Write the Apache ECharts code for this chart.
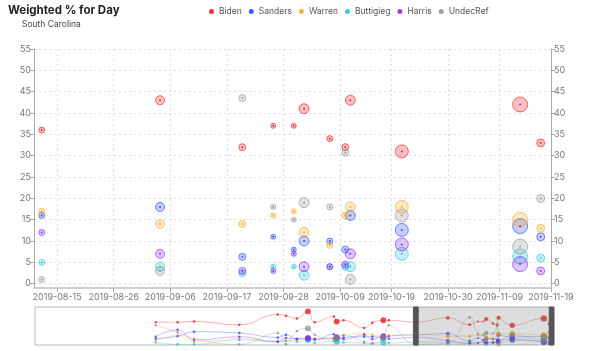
<!DOCTYPE html>
<html>
<head>
<meta charset="utf-8">
<title>Weighted % for Day</title>
<script src="https://cdn.jsdelivr.net/npm/echarts@6/dist/echarts.min.js"></script>
<style>
  html, body { margin: 0; padding: 0; background: #fff; }
  #main { width: 600px; height: 351px; }
</style>
</head>
<body>
<div id="main"></div>
<script>
// poll days (weighted per day), South Carolina
var dates = ['2019-02-03', '2019-02-19', '2019-03-03', '2019-04-05', '2019-05-03', '2019-05-09',
  '2019-05-17', '2019-05-25', '2019-05-30', '2019-06-13', '2019-06-15', '2019-06-20',
  '2019-07-05', '2019-07-11', '2019-07-19', '2019-07-23',
  '2019-08-12', '2019-09-04', '2019-09-20', '2019-09-26', '2019-09-30', '2019-10-02',
  '2019-10-07', '2019-10-10', '2019-10-11', '2019-10-21', '2019-11-13', '2019-11-17'];
// bubble size (weight) per day
var weights = [6, 6, 6, 6, 6, 6, 6, 14, 6, 6, 14, 6, 6, 6, 14, 6,
  6, 9, 7, 5, 5, 10, 6, 7, 10, 13, 15, 8];

var biden     = [36, 36, 37, 32, 48, 46, 42, 53, 36, 45, 37, 39, 27, 35, 39, 39,
  36, 43, 32, 37, 37, 41, 34, 32, 43, 31, 42, 33];
var sanders   = [10, 14, 21, 19, 12, 16, 9, 10, 8, 17, 10, 12, 13, 13, 11, 14,
  16, 18, 6.3, 11, 8, 10, 10, 8, 16, 12.6, 13.5, 11];
var warren    = [7, 15, 5, 10, 5, 6, 8, 10, 9, 8, 12, 16, 18, 16, 13, 15,
  17, 14, 14, 16, 17, 12, 9, 16, 18, 18, 15, 13];
var buttigieg = [4, 1, 1, 8, 6, 7, 5, 8, 3, 6, 5, 4, 3, 2, 4, 3,
  5, 4, 2.5, 4, 4, 2, 4, 4, 4, 7, 6.4, 6];
var harris    = [13, 24, 8, 13, 5, 11, 10, 11, 10, 11, 12, 9, 16, 9, 14, 10,
  12, 7, 3, 3, 7, 4, 4, 4.5, 7, 9.2, 4.6, 3];
var undecRef  = [31, 20, 10, 1, 19, 1, 22, 26, 16, 10, 12, 15, 5, 3, 12, 31,
  1, 3, 43.5, 18, 15, 19, 18, 30.7, 1, 16, 8.7, 20];

var names = ['Biden', 'Sanders', 'Warren', 'Buttigieg', 'Harris', 'UndecRef'];
var values = [biden, sanders, warren, buttigieg, harris, undecRef];
var colors = ['#e8000b', '#1036ff', '#f0a30a', '#14bfd2', '#7a14f2', '#8a8a8a'];

var xTicks = ['2019-08-15', '2019-08-26', '2019-09-06', '2019-09-17', '2019-09-28',
  '2019-10-09', '2019-10-19', '2019-10-30', '2019-11-09', '2019-11-19'];
var yTicks = [0, 5, 10, 15, 20, 25, 30, 35, 40, 45, 50, 55];

function day(s) {
  return Date.UTC(+s.slice(0, 4), +s.slice(5, 7) - 1, +s.slice(8, 10));
}
function fade(hex, a) {
  var n = parseInt(hex.slice(1), 16);
  return 'rgba(' + (n >> 16) + ',' + ((n >> 8) & 255) + ',' + (n & 255) + ',' + a + ')';
}

var fullMin = day('2018-11-07');
var fullMax = day('2019-11-19');
var viewMin = day('2019-08-10') + 12 * 3600 * 1000;

var chart = echarts.init(document.getElementById('main'));
var series = [];
names.forEach(function (name, i) {
  var pts = dates.map(function (d, j) { return [day(d), values[i][j], weights[j]]; });
  // bubble
  series.push({
    name: name, type: 'scatter', xAxisIndex: 0, yAxisIndex: 0, data: pts,
    symbolSize: function (p) { return p[2]; },
    itemStyle: { color: fade(colors[i], 0.3), borderColor: fade(colors[i], 0.7), borderWidth: 1 }
  });
  // centre dot
  series.push({
    name: name, type: 'scatter', xAxisIndex: 0, yAxisIndex: 0, data: pts, z: 3,
    symbolSize: 2, itemStyle: { color: colors[i] }
  });
  // overview line under the slider
  series.push({
    name: name, type: 'line', xAxisIndex: 1, yAxisIndex: 2, data: pts, smooth: true, silent: true,
    symbol: 'circle', symbolSize: function (p) { return p[2] * 0.42; },
    lineStyle: { width: 1, color: colors[i], opacity: 0.3 },
    itemStyle: { color: fade(colors[i], 0.7) }
  });
});

var option = {
  animation: false,
  textStyle: { fontFamily: 'Inter, sans-serif' },
  title: [
    { text: 'Weighted % for Day', left: 3, top: 0, textStyle: { fontSize: 11.5, fontWeight: 'bold', color: '#222' } },
    { text: 'South Carolina', left: 17, top: 15, textStyle: { fontSize: 8.5, fontWeight: 'normal', color: '#444' } }
  ],
  legend: {
    left: 204, top: 2, icon: 'circle', itemWidth: 5, itemHeight: 5, itemGap: 7,
    textStyle: { fontSize: 8.5, color: '#555' },
    data: names.map(function (n, i) { return { name: n, itemStyle: { color: colors[i], borderWidth: 0 } }; })
  },
  grid: [
    { left: 34, right: 49, top: 49, bottom: 63 },
    { left: 35, right: 48, top: 307, height: 38, show: true, borderColor: '#b8b8b8', borderWidth: 1 }
  ],
  xAxis: [{
    type: 'value', gridIndex: 0, min: fullMin, max: fullMax,
    axisLine: { onZero: false, lineStyle: { color: '#cfcfcf', width: 2 } },
    axisTick: { length: 4, lineStyle: { color: '#aaa' }, customValues: xTicks.map(day) },
    axisLabel: {
      customValues: xTicks.map(day), fontSize: 9, color: '#777', margin: 5,
      formatter: function (v) { return new Date(v).toISOString().slice(0, 10); }
    },
    splitLine: { show: true, lineStyle: { color: '#ddd', type: [2, 3] } }
  }, {
    type: 'value', gridIndex: 1, min: fullMin, max: fullMax, show: false
  }],
  yAxis: [{
    type: 'value', gridIndex: 0, min: -1, max: 55, position: 'left',
    axisLine: { show: true, lineStyle: { color: '#aaa' } },
    axisTick: { show: true, length: 4, customValues: yTicks },
    axisLabel: { customValues: yTicks, fontSize: 9, color: '#777', margin: 3 },
    splitLine: { lineStyle: { color: '#ddd', type: [2, 3] } }
  }, {
    type: 'value', gridIndex: 0, min: -1, max: 55, position: 'right',
    axisLine: { show: true, lineStyle: { color: '#aaa' } },
    axisTick: { show: true, length: 4, customValues: yTicks },
    axisLabel: { customValues: yTicks, fontSize: 9, color: '#777', margin: 3 },
    splitLine: { show: false }
  }, {
    type: 'value', gridIndex: 1, min: 0, max: 60, show: false, splitLine: { show: false }
  }],
  dataZoom: [{
    type: 'slider', xAxisIndex: 0, filterMode: 'filter',
    startValue: viewMin, endValue: fullMax,
    left: 35, right: 48, top: 307, height: 38,
    showDataShadow: false, showDetail: false, brushSelect: false, moveHandleSize: 0,
    backgroundColor: 'rgba(0,0,0,0)', borderColor: 'rgba(0,0,0,0)',
    fillerColor: 'rgba(120,120,120,0.25)',
    handleIcon: 'path://M0,0H5V40H0Z', handleSize: '100%',
    handleStyle: { color: '#555', borderColor: '#555' }
  }],
  series: series
};
chart.setOption(option);
</script>
</body>
</html>
